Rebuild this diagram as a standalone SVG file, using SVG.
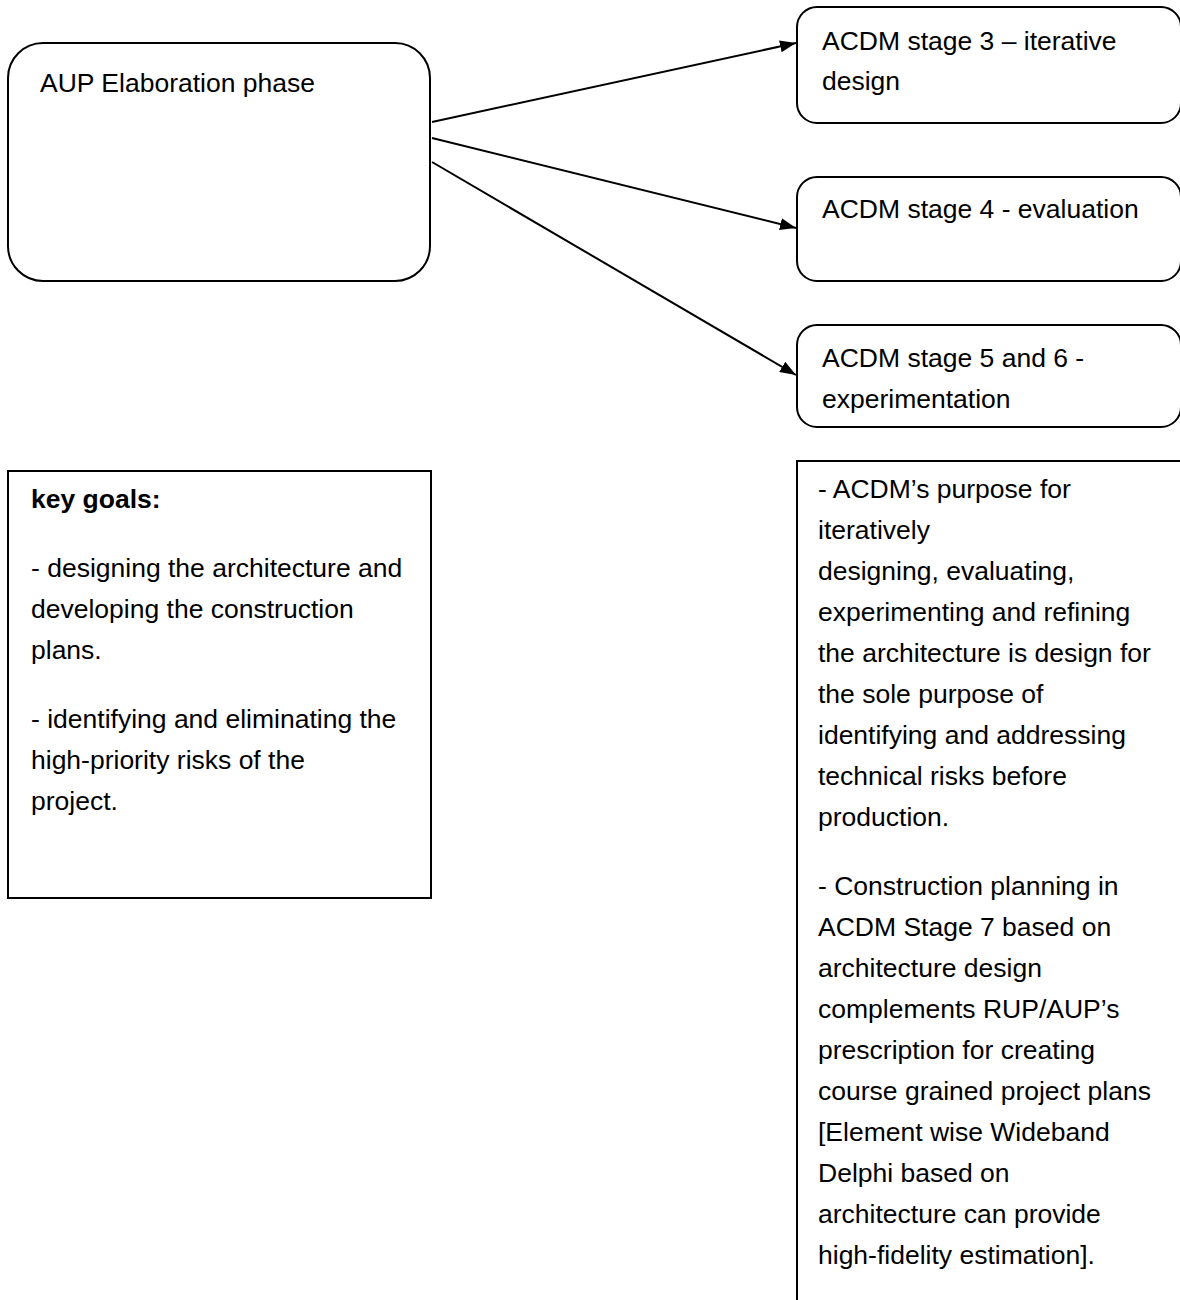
<svg xmlns="http://www.w3.org/2000/svg" width="1180" height="1300" viewBox="0 0 1180 1300">
<style>
.box{fill:#ffffff;stroke:#000000;stroke-width:2}
.t{font-family:"Liberation Sans",Arial,sans-serif;font-size:26.5px;fill:#000000}
.b{font-weight:bold}
.conn{stroke:#000000;stroke-width:2;fill:none}
</style>
<defs>
<marker id="arr" viewBox="0 0 16 12" refX="16" refY="6" markerWidth="16" markerHeight="12" markerUnits="userSpaceOnUse" orient="auto">
<path d="M0,0 L16,6 L0,12 Z" fill="#000000"/>
</marker>
</defs>
<rect width="1180" height="1300" fill="#ffffff"/>
<g id="connectors">
<line class="conn" x1="432" y1="122" x2="796" y2="43" marker-end="url(#arr)"/>
<line class="conn" x1="432" y1="138" x2="796" y2="228" marker-end="url(#arr)"/>
<line class="conn" x1="432" y1="162" x2="796" y2="375" marker-end="url(#arr)"/>
</g>
<g id="aup">
<rect class="box" x="8" y="43" width="422" height="238" rx="35" ry="35"/>
<text class="t" x="40" y="92">AUP Elaboration phase</text>
</g>
<g id="stage3">
<rect class="box" x="797" y="7" width="384" height="116" rx="20" ry="20"/>
<text class="t" x="822" y="50">ACDM stage 3 – iterative</text>
<text class="t" x="822" y="90">design</text>
</g>
<g id="stage4">
<rect class="box" x="797" y="177" width="384" height="104" rx="20" ry="20"/>
<text class="t" x="822" y="218">ACDM stage 4 - evaluation</text>
</g>
<g id="stage56">
<rect class="box" x="797" y="325" width="384" height="102" rx="20" ry="20"/>
<text class="t" x="822" y="367">ACDM stage 5 and 6 -</text>
<text class="t" x="822" y="408">experimentation</text>
</g>
<g id="keygoals">
<rect class="box" x="8" y="471" width="423" height="427"/>
<text class="t b" x="31" y="508">key goals:</text>
<text class="t" x="31" y="577">- designing the architecture and</text>
<text class="t" x="31" y="618">developing the construction</text>
<text class="t" x="31" y="659">plans.</text>
<text class="t" x="31" y="728">- identifying and eliminating the</text>
<text class="t" x="31" y="769">high-priority risks of the</text>
<text class="t" x="31" y="810">project.</text>
</g>
<g id="notes">
<rect class="box" x="797" y="461" width="420" height="900"/>
<text class="t" x="818" y="498">- ACDM’s purpose for</text>
<text class="t" x="818" y="539">iteratively</text>
<text class="t" x="818" y="580">designing, evaluating,</text>
<text class="t" x="818" y="621">experimenting and refining</text>
<text class="t" x="818" y="662">the architecture is design for</text>
<text class="t" x="818" y="703">the sole purpose of</text>
<text class="t" x="818" y="744">identifying and addressing</text>
<text class="t" x="818" y="785">technical risks before</text>
<text class="t" x="818" y="826">production.</text>
<text class="t" x="818" y="895">- Construction planning in</text>
<text class="t" x="818" y="936">ACDM Stage 7 based on</text>
<text class="t" x="818" y="977">architecture design</text>
<text class="t" x="818" y="1018">complements RUP/AUP’s</text>
<text class="t" x="818" y="1059">prescription for creating</text>
<text class="t" x="818" y="1100">course grained project plans</text>
<text class="t" x="818" y="1141">[Element wise Wideband</text>
<text class="t" x="818" y="1182">Delphi based on</text>
<text class="t" x="818" y="1223">architecture can provide</text>
<text class="t" x="818" y="1264">high-fidelity estimation].</text>
</g>
</svg>
